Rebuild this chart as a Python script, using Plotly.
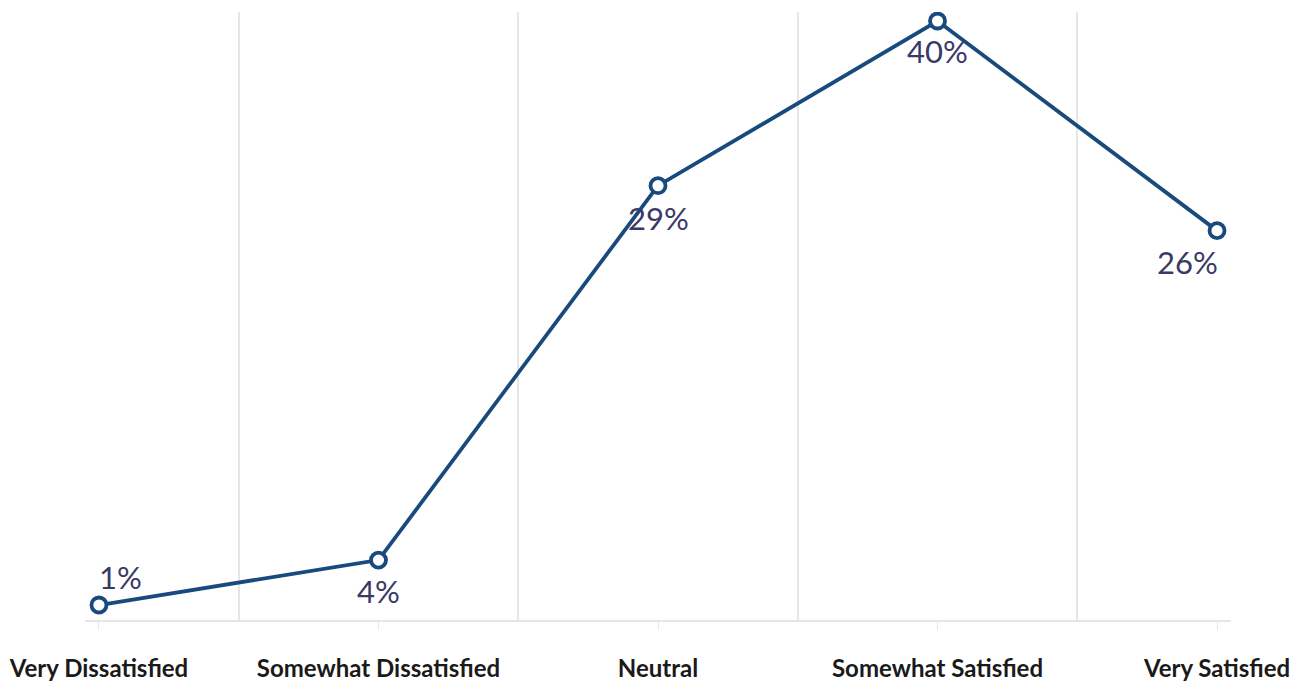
import plotly.graph_objects as go

# Survey satisfaction distribution
categories = ["Very Dissatisfied", "Somewhat Dissatisfied", "Neutral",
              "Somewhat Satisfied", "Very Satisfied"]
shares = [1, 4, 29, 40, 26]

# label offsets (pixels) relative to each point
label_dx = [22, 0, 0, 0, -30]
label_dy = [-28, 31, 32, 30, 31]

LINE = "#184a7e"
LABEL = "#3a3a66"
GRID = "#e6e6e9"

x = list(range(len(categories)))

fig = go.Figure()
fig.add_trace(go.Scatter(
    x=x, y=shares, mode="lines+markers",
    line=dict(color=LINE, width=3.8),
    marker=dict(size=15, color="white", line=dict(color=LINE, width=3.8)),
    hoverinfo="skip", showlegend=False,
))

for xi, v, dx, dy in zip(x, shares, label_dx, label_dy):
    fig.add_annotation(
        x=xi, y=v, text=f"{v}%", showarrow=False,
        xshift=dx, yshift=-dy,
        font=dict(family="Lato, Open Sans, sans-serif", size=31, color=LABEL),
    )

fig.update_layout(
    width=1304, height=684,
    margin=dict(l=85, r=73, t=12, b=64),
    paper_bgcolor="white", plot_bgcolor="white",
    xaxis=dict(
        range=[-0.05, 4.05],
        tickvals=x, ticktext=categories,
        showgrid=False, zeroline=False, automargin=False,
        showline=True, linecolor=GRID, linewidth=2,
        ticks="outside", ticklen=8, tickcolor=GRID, tickwidth=1,
        ticklabelstandoff=18,
        tickfont=dict(family="Lato, Open Sans, sans-serif", size=24,
                      color="#1a1a1a", weight="bold"),
        minor=dict(tickvals=[0.5, 1.5, 2.5, 3.5], showgrid=True,
                   gridcolor=GRID, gridwidth=2, ticks=""),
        fixedrange=True,
    ),
    yaxis=dict(
        range=[0, 40.6], visible=False, fixedrange=True, automargin=False,
    ),
)

fig.write_html("out.html")
